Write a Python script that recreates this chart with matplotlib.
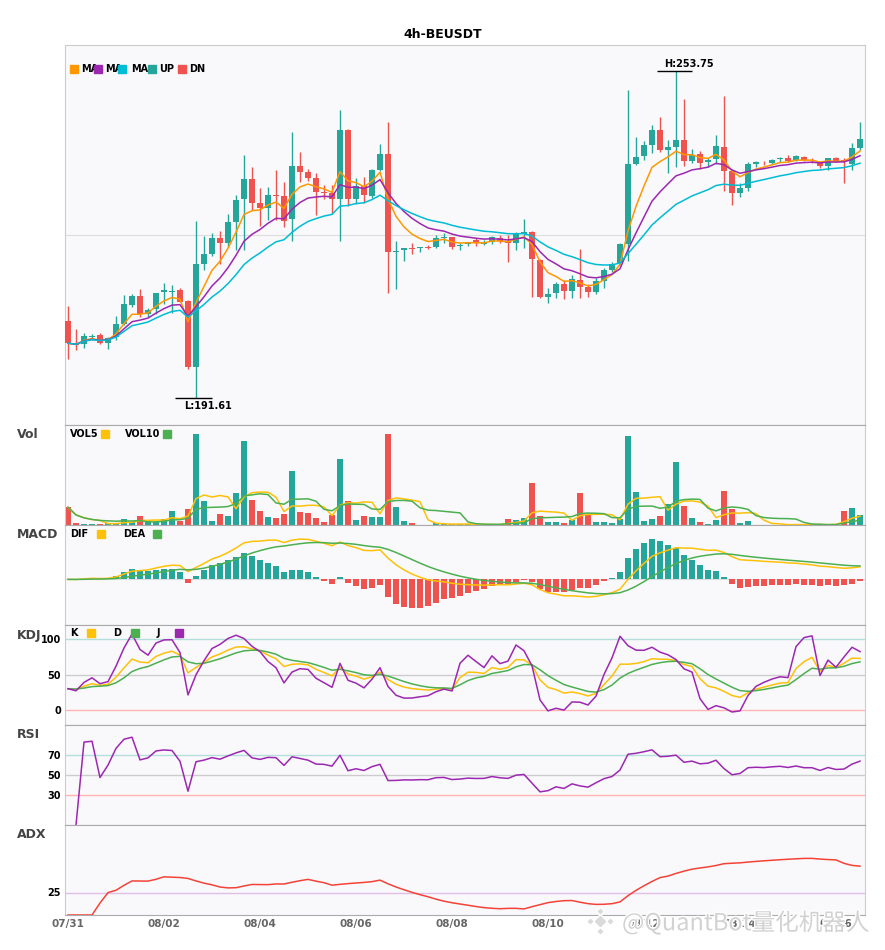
import numpy as np
import pandas as pd
import matplotlib
matplotlib.use("Agg")
import matplotlib.pyplot as plt
import matplotlib.patheffects as pe
from matplotlib.patches import Rectangle
from matplotlib.lines import Line2D

# 4h candles
opens = [206.20, 202.01, 201.82, 203.25, 203.53, 202.01, 203.15, 205.63, 209.24, 210.95,
         207.53, 208.48, 211.71, 211.80, 212.09, 210.00, 197.45, 217.04, 218.94, 221.98,
         221.03, 225.03, 229.40, 233.20, 228.64, 227.69, 230.16, 229.97, 225.60, 235.68,
         234.53, 233.39, 230.73, 230.54, 229.40, 242.52, 229.40, 231.87, 229.97, 234.91,
         237.96, 219.41, 219.70, 220.08, 220.18, 220.27, 220.27, 222.08, 222.17, 220.56,
         220.84, 221.60, 220.84, 221.22, 221.98, 221.41, 221.03, 222.74, 223.12, 217.80,
         210.76, 211.52, 213.23, 211.90, 213.99, 212.66, 211.71, 213.80, 215.89, 217.23,
         220.84, 236.06, 237.58, 239.67, 242.52, 238.72, 239.29, 240.62, 236.63, 237.96,
         236.44, 237.01, 239.29, 234.72, 230.54, 231.49, 236.06, 236.34, 236.25, 237.01,
         237.20, 236.82, 237.39, 236.92, 236.44, 235.68, 237.20, 236.82, 236.06, 239.10]
highs = [209.05, 204.67, 203.91, 203.72, 203.91, 203.15, 207.15, 211.14, 211.33, 212.28,
         208.67, 211.60, 213.42, 213.04, 212.47, 210.19, 225.22, 222.36, 222.93, 223.31,
         226.55, 230.16, 237.77, 235.49, 231.49, 231.68, 234.91, 232.63, 242.14, 238.34,
         235.10, 234.34, 232.06, 232.06, 246.33, 242.71, 233.39, 233.58, 235.10, 239.86,
         244.05, 221.41, 220.08, 221.03, 220.27, 220.65, 222.55, 222.93, 222.30, 221.03,
         221.32, 221.98, 221.60, 222.36, 222.55, 222.55, 223.12, 225.60, 223.30, 218.00,
         212.47, 213.61, 213.99, 214.94, 219.89, 213.23, 214.37, 216.27, 217.42, 221.03,
         250.13, 241.19, 240.43, 243.48, 244.99, 240.62, 253.75, 248.42, 238.91, 238.53,
         237.20, 241.57, 248.99, 234.91, 232.44, 236.44, 236.63, 236.63, 237.01, 237.39,
         237.77, 237.77, 237.58, 237.20, 236.63, 237.30, 237.39, 237.20, 240.05, 244.05]
lows = [198.97, 200.68, 201.06, 202.58, 201.82, 200.87, 202.58, 205.40, 208.86, 206.96,
        206.96, 207.53, 209.43, 207.72, 209.81, 197.07, 191.61, 215.89, 218.56, 217.04,
        220.27, 219.70, 219.70, 227.31, 224.26, 225.41, 225.41, 224.07, 221.41, 232.63,
        232.82, 226.36, 229.40, 226.55, 221.41, 228.07, 228.45, 228.64, 229.59, 234.80,
        211.52, 212.28, 217.61, 218.94, 219.32, 219.89, 220.08, 221.03, 219.89, 219.70,
        220.46, 220.46, 220.65, 220.84, 221.03, 217.42, 219.70, 220.08, 210.76, 210.57,
        209.62, 210.57, 210.38, 210.57, 210.57, 210.76, 211.33, 212.47, 215.51, 216.85,
        217.61, 235.87, 236.82, 238.15, 238.34, 234.34, 235.49, 235.68, 236.25, 235.10,
        235.49, 236.06, 230.92, 228.26, 229.78, 230.92, 235.49, 235.87, 236.16, 236.44,
        236.44, 236.63, 236.63, 236.25, 235.30, 234.91, 236.44, 232.44, 234.91, 238.72]
closes = [202.01, 201.63, 203.34, 203.44, 202.01, 202.96, 205.63, 209.43, 210.95, 207.53,
          208.29, 211.52, 212.09, 211.99, 209.81, 197.45, 217.04, 218.94, 221.98, 221.03,
          225.03, 229.21, 233.20, 228.64, 227.69, 230.16, 229.97, 225.22, 235.68, 234.53,
          233.39, 230.73, 230.54, 229.40, 242.52, 229.40, 231.87, 230.16, 234.91, 237.96,
          219.32, 219.51, 220.08, 219.98, 220.27, 220.18, 221.98, 222.17, 220.27, 220.65,
          221.28, 221.03, 221.08, 222.17, 221.41, 221.03, 222.74, 223.12, 218.01, 210.76,
          211.33, 213.23, 211.90, 214.18, 212.66, 211.71, 213.80, 215.89, 217.04, 220.84,
          236.06, 237.39, 239.67, 242.52, 238.72, 239.29, 240.62, 236.63, 237.77, 236.25,
          236.82, 239.48, 234.72, 230.54, 231.49, 236.06, 236.44, 236.25, 236.82, 237.20,
          236.63, 237.58, 236.82, 236.82, 235.68, 237.20, 236.44, 236.63, 239.10, 240.81]
volumes = [53, 7, 4, 2, 2, 6, 6, 19, 8, 26, 11, 10, 19, 43, 11, 49, 271, 73, 13, 34,
           28, 94, 250, 76, 43, 25, 22, 34, 160, 40, 37, 22, 10, 31, 196, 73, 16, 28, 25, 25,
           271, 55, 13, 7, 1, 1, 5, 4, 2, 2, 2, 1, 1, 1, 1, 19, 16, 22, 124, 26,
           10, 10, 7, 16, 94, 31, 10, 10, 7, 19, 265, 97, 13, 19, 28, 64, 187, 58, 22, 10,
           4, 16, 100, 49, 7, 13, 1, 1, 1, 1, 1, 2, 1, 1, 1, 1, 4, 43, 52, 31]
start_time = "2023-07-31 00:00"
symbol = "BEUSDT"
watermark = "@QuantBot量化机器人"

UP = "#26a69a"
DN = "#ef5350"
C_MA = ["#ff9800", "#9c27b0", "#00bcd4"]
YEL = "#ffc107"
GRN = "#4caf50"
PUR = "#9c27b0"
BG = "#f9f9fc"

df = pd.DataFrame({"o": opens, "h": highs, "l": lows, "c": closes, "v": volumes})
df.index = pd.date_range(start_time, periods=len(df), freq="4h")
n = len(df)
x = np.arange(n)
c = df["c"]

# indicators
ma = [c.ewm(span=s).mean() for s in (5, 10, 20)]
vol5 = df["v"].rolling(5, min_periods=1).mean()
vol10 = df["v"].rolling(10, min_periods=1).mean()

dif = c.ewm(span=12, adjust=False).mean() - c.ewm(span=26, adjust=False).mean()
dea = dif.ewm(span=9, adjust=False).mean()
hist = 2 * (dif - dea)

low9 = df["l"].rolling(9, min_periods=1).min()
high9 = df["h"].rolling(9, min_periods=1).max()
rsv = (c - low9) / (high9 - low9) * 100
k = rsv.ewm(com=2, adjust=False).mean()
d = k.ewm(com=2, adjust=False).mean()
j = 3 * k - 2 * d

delta = c.diff()
gain = delta.clip(lower=0).ewm(com=13).mean()
loss = (-delta.clip(upper=0)).ewm(com=13).mean()
rsi = 100 * gain / (gain + loss)

up_move = df["h"].diff()
dn_move = -df["l"].diff()
pdm = pd.Series(np.where((up_move > dn_move) & (up_move > 0), up_move, 0.0), index=df.index)
mdm = pd.Series(np.where((dn_move > up_move) & (dn_move > 0), dn_move, 0.0), index=df.index)
pdm_s = pdm.ewm(alpha=1 / 14, adjust=False).mean()
mdm_s = mdm.ewm(alpha=1 / 14, adjust=False).mean()
dx = (100 * (pdm_s - mdm_s).abs() / (pdm_s + mdm_s)).fillna(0)
adx = dx.ewm(span=14, adjust=False).mean()

W, H = 885, 950
fig = plt.figure(figsize=(W / 100, H / 100), dpi=100)
plt.rcParams["font.family"] = ["DejaVu Sans"]


def px(v):
    return v / W


def py(v):
    return 1 - v / H


def panel(top, bottom):
    ax = fig.add_axes([px(65), py(bottom), px(800), (bottom - top) / H])
    ax.set_facecolor(BG)
    ax.set_xlim(-0.375, n - 0.375)
    ax.set_xticks([])
    ax.set_yticks([])
    for s in ("left", "right"):
        ax.spines[s].set_color("#cccccc")
    for s in ("top", "bottom"):
        ax.spines[s].set_color("#aaaaaa")
    ax.tick_params(length=0)
    return ax


ax = panel(45, 425)
ax_vol = panel(425, 525)
ax_macd = panel(525, 625)
ax_kdj = panel(625, 725)
ax_rsi = panel(725, 825)
ax_adx = panel(825, 915)
ax.spines["top"].set_color("#cccccc")

# candles
colors = [UP if cc >= oo else DN for oo, cc in zip(opens, closes)]
ax.vlines(x, df["l"], df["h"], colors=colors, linewidth=1, zorder=2)
body_lo = np.minimum(df["o"], df["c"])
body_h = np.maximum((df["c"] - df["o"]).abs(), 0.12)
ax.bar(x, body_h, bottom=body_lo, width=0.75, color=colors, zorder=3)
for m, col in zip(ma, C_MA):
    ax.plot(x, m, color=col, linewidth=1.1, zorder=4)
lo, hi = df["l"].min(), df["h"].max()
span = hi - lo
ax.set_ylim(lo - 0.083 * span, hi + 0.08 * span)
ax.axhline((lo - 0.083 * span + hi + 0.08 * span) / 2, color="#dddddd", linewidth=0.8, zorder=1)

ih, il = int(df["h"].values.argmax()), int(df["l"].values.argmin())
ax.hlines(hi, ih - 2.4, ih + 2.0, color="black", linewidth=1, zorder=5)
ax.text(ih - 1.5, hi + 0.4, "H:%.2f" % hi, fontsize=7, fontweight="bold", ha="left", va="bottom")
ax.hlines(lo, il - 2.6, il + 2.0, color="black", linewidth=1, zorder=5)
ax.text(il - 1.5, lo - 0.5, "L:%.2f" % lo, fontsize=7, fontweight="bold", ha="left", va="top")

# volume
ax_vol.bar(x, df["v"], width=0.75, color=colors, zorder=2)
ax_vol.plot(x, vol5, color=YEL, linewidth=1.1, zorder=3)
ax_vol.plot(x, vol10, color=GRN, linewidth=1.1, zorder=3)
ax_vol.set_ylim(0, df["v"].max() * 1.1)

# macd
ax_macd.axhline(0, color="#dddddd", linewidth=0.8, zorder=1)
ax_macd.bar(x, hist, width=0.75, color=[UP if h >= 0 else DN for h in hist], zorder=2)
ax_macd.plot(x, dif, color=YEL, linewidth=1.1, zorder=3)
ax_macd.plot(x, dea, color=GRN, linewidth=1.1, zorder=3)
mlo = min(dif.min(), dea.min(), hist.min())
mhi = max(dif.max(), dea.max(), hist.max())
ax_macd.set_ylim(mlo - 0.24 * (mhi - mlo), mhi + 0.2 * (mhi - mlo))

# kdj
for lvl, col in ((100, "#b2dfdb"), (50, "#cccccc"), (0, "#ffb3b3")):
    ax_kdj.axhline(lvl, color=col, linewidth=1, zorder=1)
ax_kdj.plot(x, k, color=YEL, linewidth=1.1, zorder=3)
ax_kdj.plot(x, d, color=GRN, linewidth=1.1, zorder=3)
ax_kdj.plot(x, j, color=PUR, linewidth=1.1, zorder=3)
ax_kdj.set_ylim(-21, 120)
ax_kdj.set_yticks([0, 50, 100])

# rsi
for lvl, col in ((70, "#b2dfdb"), (50, "#cccccc"), (30, "#ffb3b3")):
    ax_rsi.axhline(lvl, color=col, linewidth=1, zorder=1)
ax_rsi.plot(x, rsi, color=PUR, linewidth=1.1, zorder=3)
ax_rsi.set_ylim(0, 100)
ax_rsi.set_yticks([30, 50, 70])

# adx
ax_adx.axhline(25, color="#e1bee7", linewidth=1, zorder=1)
ax_adx.plot(x, adx, color="#f44336", linewidth=1.1, zorder=3)
ax_adx.set_ylim(0, 100)
ax_adx.set_yticks([25])

for a in (ax_kdj, ax_rsi, ax_adx):
    a.tick_params(axis="y", length=0, pad=3, labelsize=7)
    for t in a.get_yticklabels():
        t.set_fontweight("bold")

ticks = [i for i, t in enumerate(df.index) if t.hour == 0 and (t - df.index[0]).days % 2 == 0]
ax_adx.set_xticks(ticks, [df.index[i].strftime("%m/%d") for i in ticks])
ax_adx.tick_params(axis="x", length=0, pad=3, labelsize=7.5, labelcolor="#666666")
for t in ax_adx.get_xticklabels():
    t.set_fontweight("bold")

fig.text(0.5, py(34), "4h-" + symbol, fontsize=9, fontweight="bold", ha="center", va="center")

for name, yy in (("Vol", 435), ("MACD", 535), ("KDJ", 636), ("RSI", 735), ("ADX", 835)):
    fig.text(px(17), py(yy), name, fontsize=9, fontweight="bold", color="#444444", va="center")


def legend(items, yy):
    for label, tx, sx, col in items:
        fig.text(px(tx), py(yy), label, fontsize=7, fontweight="bold", va="center", zorder=4)
        fig.patches.append(Rectangle((px(sx), py(yy + 4)), px(8), 8 / H, color=col,
                                     transform=fig.transFigure, figure=fig, zorder=5))


legend([("MA", 81, 70, C_MA[0]), ("MA", 105, 94, C_MA[1]), ("MA", 131, 118, C_MA[2]),
        ("UP", 159, 148, UP), ("DN", 189, 178, DN)], 69)
legend([("VOL5", 70, 101, YEL), ("VOL10", 125, 163, GRN)], 434)
legend([("DIF", 70, 97, YEL), ("DEA", 123, 153, GRN)], 534)
legend([("K", 70, 87, YEL), ("D", 113, 131, GRN), ("J", 157, 175, PUR)], 633)

# watermark with its diamond logo
halo = [pe.withStroke(linewidth=2, foreground="white")]
for dx_, dy_, s in ((0, 0, 7), (-10, 0, 4), (10, 0, 4), (0, -10, 4), (0, 10, 4)):
    fig.add_artist(Line2D([px(600 + dx_)], [py(921 + dy_)], marker="D", markersize=s,
                          markerfacecolor="#dadada", markeredgecolor="white", markeredgewidth=1,
                          linestyle="none", transform=fig.transFigure, zorder=6))
fig.text(px(622), py(923), watermark, fontsize=17, color="#d2d2d2", va="center",
         family=["Noto Sans CJK SC", "DejaVu Sans"], zorder=6, path_effects=halo)

fig.savefig("out.png", dpi=100)
